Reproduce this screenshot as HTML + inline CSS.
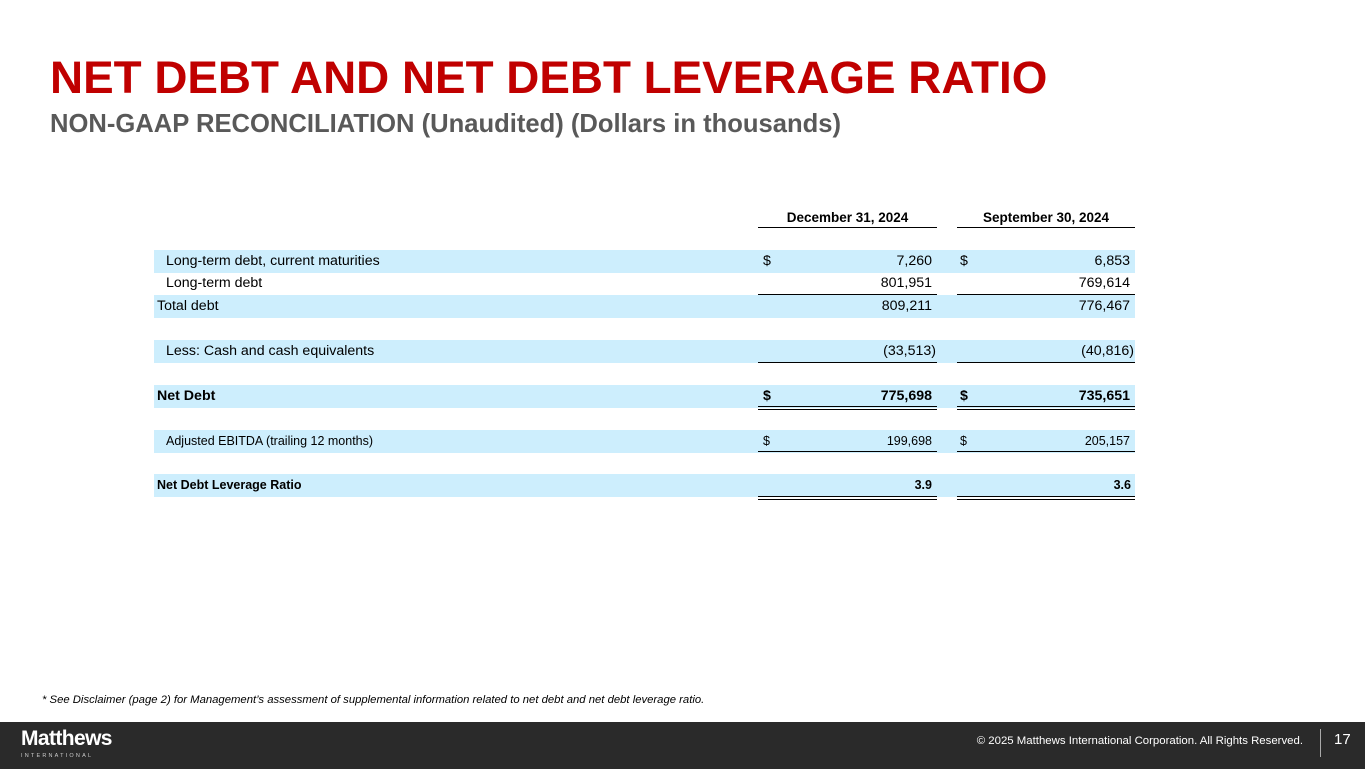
<!DOCTYPE html>
<html><head><style>
*{margin:0;padding:0;box-sizing:border-box}
body{width:1365px;height:769px;position:relative;background:#fff;font-family:"Liberation Sans",Arial,sans-serif;overflow:hidden;color:#000}
.a{position:absolute;white-space:nowrap}
.bg{position:absolute;left:154px;width:981px;height:23px;background:#cdeefd}
.t{position:absolute;font-size:14.2px;line-height:23px}
.r{text-align:right}
.ln{position:absolute;height:0;border-top:1.5px solid #000}
.dl{position:absolute;height:4px;border-top:1.5px solid #000;border-bottom:1.5px solid #000}
</style></head><body>
<div class="a" style="left:50px;top:51px;font-size:45.8px;font-weight:bold;color:#c00000;line-height:54px">NET DEBT AND NET DEBT LEVERAGE RATIO</div>
<div class="a" style="left:50px;top:109px;font-size:25.6px;font-weight:bold;color:#595959;line-height:30px">NON-GAAP RECONCILIATION (Unaudited) (Dollars in thousands)</div>

<div class="t a" style="left:758px;width:179px;top:206px;text-align:center;font-weight:bold;font-size:13.5px">December 31, 2024</div>
<div class="t a" style="left:957px;width:178px;top:206px;text-align:center;font-weight:bold;font-size:13.5px">September 30, 2024</div>
<div class="ln" style="left:758px;width:179px;top:227px"></div>
<div class="ln" style="left:957px;width:178px;top:227px"></div>

<div class="bg" style="top:250px"></div>
<div class="bg" style="top:295px"></div>
<div class="bg" style="top:340px"></div>
<div class="bg" style="top:385px"></div>
<div class="bg" style="top:430px"></div>
<div class="bg" style="top:474px"></div>

<div class="t a" style="left:166px;top:250px">Long-term debt, current maturities</div>
<div class="t a" style="left:763px;top:250px">$</div>
<div class="t a r" style="left:800px;width:132px;top:250px">7,260</div>
<div class="t a" style="left:960px;top:250px">$</div>
<div class="t a r" style="left:1000px;width:130px;top:250px">6,853</div>

<div class="t a" style="left:166px;top:272px">Long-term debt</div>
<div class="t a r" style="left:800px;width:132px;top:272px">801,951</div>
<div class="t a r" style="left:1000px;width:130px;top:272px">769,614</div>
<div class="ln" style="left:758px;width:179px;top:294px"></div>
<div class="ln" style="left:957px;width:178px;top:294px"></div>

<div class="t a" style="left:157px;top:295px">Total debt</div>
<div class="t a r" style="left:800px;width:132px;top:295px">809,211</div>
<div class="t a r" style="left:1000px;width:130px;top:295px">776,467</div>

<div class="t a" style="left:166px;top:340px">Less: Cash and cash equivalents</div>
<div class="t a r" style="left:800px;width:136px;top:340px">(33,513)</div>
<div class="t a r" style="left:1000px;width:134px;top:340px">(40,816)</div>
<div class="ln" style="left:758px;width:179px;top:362px"></div>
<div class="ln" style="left:957px;width:178px;top:362px"></div>

<div class="t a" style="left:157px;top:385px;font-weight:bold">Net Debt</div>
<div class="t a" style="left:763px;top:385px;font-weight:bold">$</div>
<div class="t a r" style="left:800px;width:132px;top:385px;font-weight:bold">775,698</div>
<div class="t a" style="left:960px;top:385px;font-weight:bold">$</div>
<div class="t a r" style="left:1000px;width:130px;top:385px;font-weight:bold">735,651</div>
<div class="dl" style="left:758px;width:179px;top:406px"></div>
<div class="dl" style="left:957px;width:178px;top:406px"></div>

<div class="t a" style="left:166px;top:430px;font-size:12.5px">Adjusted EBITDA (trailing 12 months)</div>
<div class="t a" style="left:763px;top:430px;font-size:12.5px">$</div>
<div class="t a r" style="left:800px;width:132px;top:430px;font-size:12.5px">199,698</div>
<div class="t a" style="left:960px;top:430px;font-size:12.5px">$</div>
<div class="t a r" style="left:1000px;width:130px;top:430px;font-size:12.5px">205,157</div>
<div class="ln" style="left:758px;width:179px;top:451px"></div>
<div class="ln" style="left:957px;width:178px;top:451px"></div>

<div class="t a" style="left:157px;top:474px;font-weight:bold;font-size:12.5px">Net Debt Leverage Ratio</div>
<div class="t a r" style="left:800px;width:132px;top:474px;font-weight:bold;font-size:12.5px">3.9</div>
<div class="t a r" style="left:1000px;width:131px;top:474px;font-weight:bold;font-size:12.5px">3.6</div>
<div class="dl" style="left:758px;width:179px;top:496px"></div>
<div class="dl" style="left:957px;width:178px;top:496px"></div>

<div class="a" style="left:42px;top:694px;font-size:11.3px;font-style:italic;line-height:13px">* See Disclaimer (page 2) for Management’s assessment of supplemental information related to net debt and net debt leverage ratio.</div>

<div class="a" style="left:0;top:722px;width:1365px;height:47px;background:#2a2a2a"></div>
<div class="a" style="left:21px;top:726px;font-size:21px;font-weight:bold;color:#fff;letter-spacing:-0.6px;line-height:26px">Matthews</div>
<div class="a" style="left:21px;top:753px;font-size:5.5px;color:#ccc;letter-spacing:2.2px;line-height:7px">INTERNATIONAL</div>
<div class="a" style="right:62px;top:733px;font-size:11.4px;color:#fff;line-height:16px">© 2025 Matthews International Corporation. All Rights Reserved.</div>
<div class="a" style="left:1320px;top:729px;width:1px;height:28px;background:#aaa"></div>
<div class="a" style="left:1334px;top:730px;font-size:15px;color:#fff;line-height:20px">17</div>
</body></html>
